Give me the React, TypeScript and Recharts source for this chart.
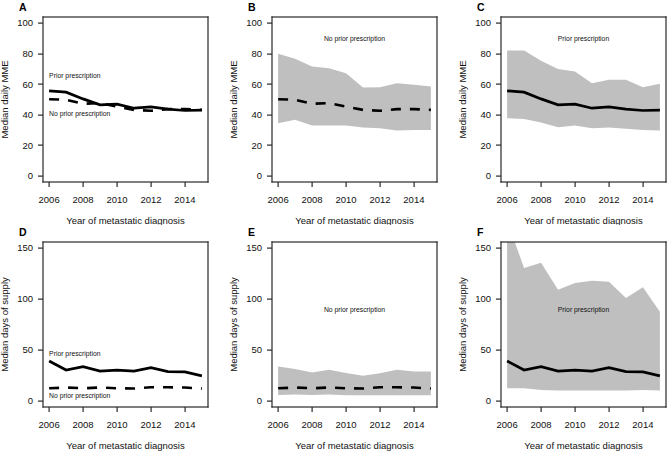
import React from "react";
import {
  ComposedChart,
  Area,
  Line,
  XAxis,
  YAxis,
  ReferenceDot,
} from "recharts";

// ---------- data ----------
const years = [2006, 2007, 2008, 2009, 2010, 2011, 2012, 2013, 2014, 2015];
const xTicks = [2006, 2008, 2010, 2012, 2014];
const mmeTicks = [0, 20, 40, 60, 80, 100];
const daysTicks = [0, 50, 100, 150];

const mmePriorMedian = [55.7, 54.8, 50.4, 46.5, 47, 44.3, 45.2, 43.7, 42.8, 43];
const mmePriorLow = [37.8, 37.3, 35, 31.9, 33, 31.2, 31.7, 30.8, 30.1, 29.7];
const mmePriorHigh = [82, 82, 75.3, 69.9, 68.3, 60.7, 62.9, 62.9, 58, 60.3];

const mmeNoPriorMedian = [50.2, 49.8, 47.2, 47.6, 45.4, 43.2, 42.6, 43.7, 43.7, 43.2];
const mmeNoPriorLow = [34.5, 36.7, 33, 33, 33, 31.7, 31.2, 29.7, 30.1, 30.1];
const mmeNoPriorHigh = [79.9, 76.6, 71.6, 70.5, 67.2, 57.9, 58.1, 60.7, 59.6, 58.5];

const daysPriorMedian = [39.1, 30.3, 33.6, 29.3, 30.3, 29.3, 32.6, 28.7, 28.4, 24.5];
const daysPriorLow = [12.4, 12.4, 10.8, 10.2, 10.2, 10.2, 10.2, 10.2, 10.8, 10.2];
const daysPriorHigh = [177, 130.4, 135.6, 109.2, 115.7, 118, 117, 101, 111.5, 87.4];

const daysNoPriorMedian = [12.4, 13.1, 12.4, 13.1, 12.4, 12.1, 13.4, 13.4, 13.1, 12.1];
const daysNoPriorLow = [5.9, 6.2, 5.9, 6.2, 5.6, 5.6, 5.6, 5.6, 5.6, 5.6];
const daysNoPriorHigh = [33.7, 31.4, 27.8, 30.5, 27.5, 24.6, 27.2, 30.5, 28.8, 28.8];

const PRIOR = "Prior prescription";
const NO_PRIOR = "No prior prescription";
const X_TITLE = "Year of metastatic diagnosis";

// ---------- layout ----------
const FONT = "'Liberation Sans', Arial, Helvetica, sans-serif";
const X_DOMAIN: [number, number] = [2005.64, 2015.36];
const Y_AXIS_W = 43;
const PLOT_W = 165;
const PLOT_H = 165;
const M_TOP = 17;
const INK = "#111";
const FRAME = "#2a2a2a";
const TICK_LEN = 5;
const X_TICK_GAP = 9;
const Y_TICK_GAP = 5;

type LineSpec = { values: number[]; dashed: boolean };
type Note = { x: number; y: number; text: string; align: "left" | "center" };

type PanelProps = {
  left: number;
  top: number;
  width: number;
  height: number;
  letter: string;
  yTitle: string;
  yDomain: [number, number];
  yTicks: number[];
  band?: { lo: number[]; hi: number[] };
  lines: LineSpec[];
  notes: Note[];
};

function XTick(props: any) {
  const { x, y, payload } = props;
  const axisY = y - TICK_LEN - X_TICK_GAP;
  return (
    <g>
      <rect x={Math.round(x) - 0.5} y={axisY} width={1.2} height={TICK_LEN} fill={FRAME} stroke="none" />
      <text
        x={x}
        y={y}
        dy="0.71em"
        textAnchor="middle"
        fontSize={9.5}
        fontFamily={FONT}
        fill={INK}
      >
        {payload.value}
      </text>
    </g>
  );
}

function YTick(props: any) {
  const { x, y, payload } = props;
  const axisX = x + TICK_LEN + Y_TICK_GAP;
  return (
    <g>
      <rect x={axisX - TICK_LEN} y={Math.round(y) - 0.5} width={TICK_LEN} height={1.2} fill={FRAME} stroke="none" />
      <text
        x={x}
        y={y}
        dy="0.35em"
        textAnchor="end"
        fontSize={9.5}
        fontFamily={FONT}
        fill={INK}
      >
        {payload.value}
      </text>
    </g>
  );
}

function Frame() {
  const l = Y_AXIS_W - 0.6;
  const t = M_TOP - 0.6;
  const w = PLOT_W + 1.2;
  const h = PLOT_H + 1.2;
  const sw = 1.2;
  return (
    <g>
      <rect x={l} y={t} width={w} height={sw} fill={FRAME} stroke="none" />
      <rect x={l} y={t + h - sw} width={w} height={sw} fill={FRAME} stroke="none" />
      <rect x={l} y={t} width={sw} height={h} fill={FRAME} stroke="none" />
      <rect x={l + w - sw} y={t} width={sw} height={h} fill={FRAME} stroke="none" />
    </g>
  );
}

function makeNoteLabel(text: string, align: "left" | "center", withFrame: boolean) {
  return (props: any) => {
    const vb = props.viewBox || {};
    const cx = (vb.x ?? 0) + (vb.width ?? 0) / 2;
    const cy = (vb.y ?? 0) + (vb.height ?? 0) / 2;
    return (
      <g>
        <text
          x={cx}
          y={cy}
          dy="0.35em"
          textAnchor={align === "left" ? "start" : "middle"}
          fontSize={6.8}
          fontFamily={FONT}
          fill={INK}
        >
          {text}
        </text>
        {withFrame && <Frame />}
      </g>
    );
  };
}

function Panel(p: PanelProps) {
  const data = years.map((yr, i) => {
    const row: any = { year: yr };
    if (p.band) row.band = [p.band.lo[i], p.band.hi[i]];
    p.lines.forEach((l, j) => {
      row["s" + j] = l.values[i];
    });
    return row;
  });
  const xAxisH = p.height - M_TOP - PLOT_H;
  const plotRight = Y_AXIS_W + PLOT_W;
  const marginRight = p.width - plotRight;

  const yTitleContent = () => {
    const bx = Y_AXIS_W - 35;
    const cy = M_TOP + PLOT_H / 2;
    return (
      <g>
        <text
          x={bx}
          y={cy}
          transform={`rotate(-90 ${bx} ${cy})`}
          textAnchor="middle"
          fontSize={9.5}
          fontFamily={FONT}
          fill={INK}
        >
          {p.yTitle}
        </text>
        <text
          x={19}
          y={M_TOP - 6}
          fontSize={10.5}
          fontWeight="bold"
          fontFamily={FONT}
          fill="#000"
        >
          {p.letter}
        </text>
      </g>
    );
  };

  const xTitleContent = () => (
    <text
      x={Y_AXIS_W + PLOT_W / 2}
      y={M_TOP + PLOT_H + 41.5}
      textAnchor="middle"
      fontSize={9.5}
      fontFamily={FONT}
      fill={INK}
    >
      {X_TITLE}
    </text>
  );

  return (
    <div style={{ position: "absolute", left: p.left, top: p.top }}>
      <ComposedChart
        width={p.width}
        height={p.height}
        data={data}
        margin={{ top: M_TOP, right: marginRight, bottom: 0, left: 0 }}
      >
        <XAxis
          dataKey="year"
          type="number"
          domain={X_DOMAIN}
          ticks={xTicks}
          allowDataOverflow
          height={xAxisH}
          axisLine={false}
          tickLine={false}
          tickSize={TICK_LEN}
          tickMargin={X_TICK_GAP}
          tick={<XTick />}
          interval={0}
          label={{ content: xTitleContent }}
        />
        <YAxis
          type="number"
          domain={p.yDomain}
          ticks={p.yTicks}
          allowDataOverflow
          width={Y_AXIS_W}
          axisLine={false}
          tickLine={false}
          tickSize={TICK_LEN}
          tickMargin={Y_TICK_GAP}
          tick={<YTick />}
          interval={0}
          label={{ content: yTitleContent }}
        />
        {p.band && (
          <Area
            type="linear"
            dataKey="band"
            stroke="none"
            fill="#bfbfbf"
            fillOpacity={1}
            isAnimationActive={false}
            activeDot={false}
            dot={false}
          />
        )}
        {p.lines.map((l, j) => (
          <Line
            key={j}
            type="linear"
            dataKey={"s" + j}
            stroke="#000"
            strokeWidth={l.dashed ? 2.6 : 2.7}
            strokeDasharray={l.dashed ? "10 9" : undefined}
            dot={false}
            activeDot={false}
            isAnimationActive={false}
          />
        ))}
        {p.notes.map((n, k) => (
          <ReferenceDot
            key={"n" + k}
            x={n.x}
            y={n.y}
            r={0}
            fill="none"
            stroke="none"
            label={{ content: makeNoteLabel(n.text, n.align, k === 0) }}
          />
        ))}
      </ComposedChart>
    </div>
  );
}

export default function App() {
  const mmeDomain: [number, number] = [-4, 104];
  const daysDomain: [number, number] = [-6, 156];
  const topH = 225;
  const botH = 227;
  return (
    <div
      style={{
        position: "absolute",
        left: 0,
        top: 0,
        width: 668,
        height: 452,
        overflow: "hidden",
        background: "#fff",
      }}
    >
      <Panel
        left={0}
        top={0}
        width={229}
        height={topH}
        letter="A"
        yTitle="Median daily MME"
        yDomain={mmeDomain}
        yTicks={mmeTicks}
        lines={[
          { values: mmeNoPriorMedian, dashed: true },
          { values: mmePriorMedian, dashed: false },
        ]}
        notes={[
          { x: 2006, y: 65.5, text: PRIOR, align: "left" },
          { x: 2006, y: 40.5, text: NO_PRIOR, align: "left" },
        ]}
      />
      <Panel
        left={229}
        top={0}
        width={229}
        height={topH}
        letter="B"
        yTitle="Median daily MME"
        yDomain={mmeDomain}
        yTicks={mmeTicks}
        band={{ lo: mmeNoPriorLow, hi: mmeNoPriorHigh }}
        lines={[{ values: mmeNoPriorMedian, dashed: true }]}
        notes={[{ x: 2010.5, y: 90, text: NO_PRIOR, align: "center" }]}
      />
      <Panel
        left={458}
        top={0}
        width={210}
        height={topH}
        letter="C"
        yTitle="Median daily MME"
        yDomain={mmeDomain}
        yTicks={mmeTicks}
        band={{ lo: mmePriorLow, hi: mmePriorHigh }}
        lines={[{ values: mmePriorMedian, dashed: false }]}
        notes={[{ x: 2010.5, y: 90, text: PRIOR, align: "center" }]}
      />
      <Panel
        left={0}
        top={225}
        width={229}
        height={botH}
        letter="D"
        yTitle="Median days of supply"
        yDomain={daysDomain}
        yTicks={daysTicks}
        lines={[
          { values: daysNoPriorMedian, dashed: true },
          { values: daysPriorMedian, dashed: false },
        ]}
        notes={[
          { x: 2006, y: 46, text: PRIOR, align: "left" },
          { x: 2006, y: 5, text: NO_PRIOR, align: "left" },
        ]}
      />
      <Panel
        left={229}
        top={225}
        width={229}
        height={botH}
        letter="E"
        yTitle="Median days of supply"
        yDomain={daysDomain}
        yTicks={daysTicks}
        band={{ lo: daysNoPriorLow, hi: daysNoPriorHigh }}
        lines={[{ values: daysNoPriorMedian, dashed: true }]}
        notes={[{ x: 2010.5, y: 90, text: NO_PRIOR, align: "center" }]}
      />
      <Panel
        left={458}
        top={225}
        width={210}
        height={botH}
        letter="F"
        yTitle="Median days of supply"
        yDomain={daysDomain}
        yTicks={daysTicks}
        band={{ lo: daysPriorLow, hi: daysPriorHigh }}
        lines={[{ values: daysPriorMedian, dashed: false }]}
        notes={[{ x: 2010.5, y: 90, text: PRIOR, align: "center" }]}
      />
    </div>
  );
}
